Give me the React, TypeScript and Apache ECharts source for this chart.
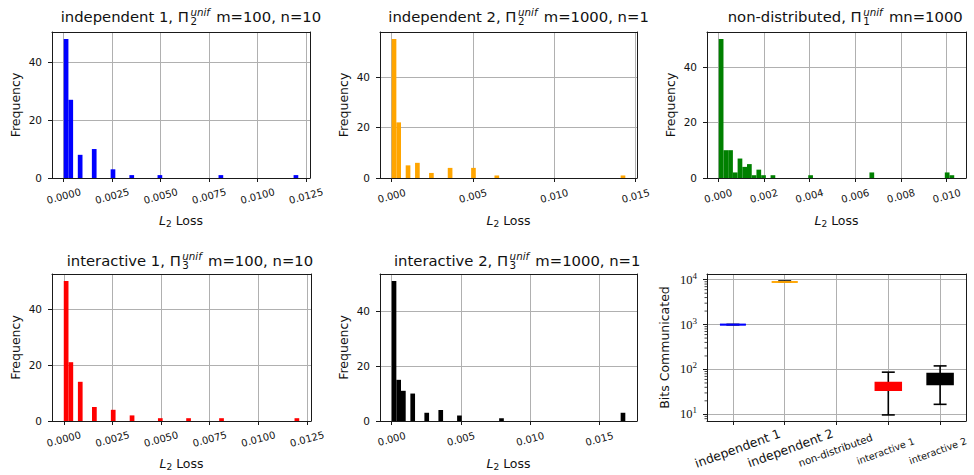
import { useEffect, useRef } from 'react';
import * as echarts from 'echarts';

// ---------------- data ----------------
const NBINS = 50;

const ind1Range = [0, 0.0121];
const ind1Bins = [0, 1, 3, 6, 10, 14, 20, 33, 49];
const ind1Counts = [48, 27, 8, 10, 3, 1, 1, 1, 1];

const ind2Range = [0, 0.01437];
const ind2Bins = [0, 1, 3, 5, 8, 12, 17, 22, 49];
const ind2Counts = [55, 22, 5, 6, 2, 4, 4, 1, 1];

const nonRange = [0.00003, 0.01033];
const nonBins = [0, 1, 2, 3, 4, 5, 6, 7, 8, 9, 11, 19, 32, 48, 49];
const nonCounts = [50, 10, 10, 2, 7, 4, 5, 1, 3, 1, 1, 1, 2, 2, 1];

const int1Range = [0, 0.0121];
const int1Bins = [0, 1, 3, 6, 10, 14, 20, 26, 33, 49];
const int1Counts = [50, 21, 14, 5, 4, 2, 1, 1, 1, 1];

const int2Range = [0, 0.01688];
const int2Bins = [0, 1, 2, 4, 7, 10, 14, 23, 49];
const int2Counts = [51, 15, 11, 10, 3, 4, 2, 1, 3];

const lossTicksA = [0, 0.0025, 0.005, 0.0075, 0.01, 0.0125];
const lossTicksB = [0, 0.005, 0.01, 0.015];
const lossTicksC = [0, 0.002, 0.004, 0.006, 0.008, 0.01];
const freqTicks = [0, 20, 40];

const boxCats = ['independent 1', 'independent 2', 'non-distributed', 'interactive 1', 'interactive 2'];
const boxLow = [1000, 8900, null, 9.7, 16.7];
const boxQ1 = [1000, 8900, null, 34.5, 46.2];
const boxMed = [1000, 8900, null, 42, 60];
const boxQ3 = [1000, 8900, null, 51.3, 81.4];
const boxHigh = [1000, 9350, null, 87, 120];
const bitsTicks = [10, 100, 1000, 10000];
const bitsMinorTicks = [8, 9, 20, 30, 40, 50, 60, 70, 80, 90, 200, 300, 400, 500, 600, 700, 800, 900,
  2000, 3000, 4000, 5000, 6000, 7000, 8000, 9000];

const titleTexts = [
  { pre: 'independent 1, Π', sub: '2', sup: 'unif', post: ' m=100, n=10' },
  { pre: 'independent 2, Π', sub: '2', sup: 'unif', post: ' m=1000, n=1' },
  { pre: 'non-distributed, Π', sub: '1', sup: 'unif', post: ' mn=1000' },
  { pre: 'interactive 1, Π', sub: '3', sup: 'unif', post: ' m=100, n=10' },
  { pre: 'interactive 2, Π', sub: '3', sup: 'unif', post: ' m=1000, n=1' },
];

// ---------------- layout / style ----------------
const FONT = 'DejaVu Sans';
const SERIF = 'Liberation Serif';
const TXT = '#111';
const GRIDC = '#b0b0b0';
const SPINE = '#1a1a1a';

const GRIDS = [
  { left: 52, top: 32, width: 258, height: 146 },
  { left: 380, top: 32, width: 257, height: 146 },
  { left: 707, top: 32, width: 259, height: 146 },
  { left: 52, top: 274, width: 259, height: 147 },
  { left: 380, top: 274, width: 257, height: 147 },
  { left: 707, top: 274, width: 259, height: 147 },
];
const titlePos = [[60.7, 22], [388.3, 22], [727.7, 22], [66.7, 265.5], [394, 265.5]];

// per-category label style: font size and [top, right, bottom, left] padding (nudges the rotated label)
const catLabelRich: Record<string, any> = {
  c0: { fontSize: 12.4, lineHeight: 15, padding: [0, 0, 0, 10] },
  c1: { fontSize: 12.4, lineHeight: 15, padding: [0, 0, 0, 12] },
  c2: { fontSize: 10.2, lineHeight: 13, padding: [0, 2, 0, 0] },
  c3: { fontSize: 9.6, lineHeight: 12, padding: [0, 6, 0, 0] },
  c4: { fontSize: 9.6, lineHeight: 12, padding: [0, 5, 0, 0] },
};

const panels = [
  { range: ind1Range, bins: ind1Bins, counts: ind1Counts, color: '#0000ff', ticks: lossTicksA, dec: 4 },
  { range: ind2Range, bins: ind2Bins, counts: ind2Counts, color: '#ffa500', ticks: lossTicksB, dec: 3 },
  { range: nonRange, bins: nonBins, counts: nonCounts, color: '#008000', ticks: lossTicksC, dec: 3 },
  { range: int1Range, bins: int1Bins, counts: int1Counts, color: '#ff0000', ticks: lossTicksA, dec: 4 },
  { range: int2Range, bins: int2Bins, counts: int2Counts, color: '#000000', ticks: lossTicksB, dec: 3 },
];
const boxColors = ['#0000ff', '#ffa500', '#008000', '#ff0000', '#000000'];

let measureCanvas: HTMLCanvasElement | null = null;
function textWidth(t: string, size: number, italic = false) {
  if (!measureCanvas) measureCanvas = document.createElement('canvas');
  const ctx = measureCanvas.getContext('2d')!;
  ctx.font = `${italic ? 'italic ' : ''}${size}px "${FONT}"`;
  return ctx.measureText(t).width;
}

function txt(x: number, baseline: number, text: string, size: number) {
  return {
    type: 'text',
    x,
    y: baseline - 0.346 * size,
    silent: true,
    style: {
      text,
      fontSize: size,
      fontFamily: FONT,
      fill: TXT,
      align: 'left',
      verticalAlign: 'middle',
    },
  };
}

function titleGraphic(i: number) {
  const t = titleTexts[i];
  const [x, base] = titlePos[i];
  const S = 14.8;
  const s = 10.3;
  const w1 = textWidth(t.pre, S);
  const ws = Math.max(textWidth(t.sub, s), textWidth(t.sup, s, true));
  const lh = 8.8;
  const supCenter = base - 6 - 0.346 * s;
  const stack = {
    type: 'text',
    x: x + w1 + 1.5,
    y: supCenter - lh / 2,
    silent: true,
    style: {
      text: `{p|${t.sup}}\n{b|${t.sub}}`,
      align: 'left',
      verticalAlign: 'top',
      fill: TXT,
      rich: {
        p: { fontFamily: FONT, fontSize: s, fontStyle: 'italic', lineHeight: lh, fill: TXT },
        b: { fontFamily: FONT, fontSize: s, lineHeight: lh, fill: TXT },
      },
    },
  };
  return [txt(x, base, t.pre, S), stack, txt(x + w1 + ws + 3, base, t.post, S)];
}

function frameAxes(i: number, xAxis: any[], yAxis: any[]) {
  const line = { show: true, onZero: false, lineStyle: { color: SPINE, width: 1 } };
  const off = { show: false };
  xAxis.push({
    type: 'value', gridIndex: i, position: 'top', min: 0, max: 1,
    axisLine: line, axisTick: off, axisLabel: off, splitLine: off,
  });
  yAxis.push({
    type: 'value', gridIndex: i, position: 'right', min: 0, max: 1,
    axisLine: line, axisTick: off, axisLabel: off, splitLine: off,
  });
}

function buildOption() {
  const grid = GRIDS.map((g) => ({
    ...g,
    show: false,
    containLabel: false,
    outerBoundsMode: 'none',
  }));

  const xAxis: any[] = [];
  const yAxis: any[] = [];
  const series: any[] = [];
  const spineLine = { show: true, onZero: false, lineStyle: { color: SPINE, width: 1 } };

  const lossName = {
    name: '{i|L}{s|2}{n| Loss}',
    nameLocation: 'middle',
    nameGap: 34,
    nameTextStyle: {
      color: TXT,
      rich: {
        i: { fontFamily: FONT, fontStyle: 'italic', fontSize: 12.5, lineHeight: 16, color: TXT },
        s: { fontFamily: FONT, fontSize: 9, lineHeight: 10, verticalAlign: 'bottom', color: TXT },
        n: { fontFamily: FONT, fontSize: 12.5, lineHeight: 16, color: TXT },
      },
    },
  };

  panels.forEach((p, i) => {
    const [lo, hi] = p.range;
    const span = hi - lo;
    const w = span / NBINS;
    const ymax = Math.max(...p.counts) * 1.05;
    xAxis.push({
      type: 'value',
      gridIndex: i,
      position: 'bottom',
      min: lo - 0.05 * span,
      max: hi + 0.05 * span,
      axisLine: spineLine,
      axisTick: { show: true, customValues: p.ticks, length: 4, lineStyle: { color: SPINE, width: 1 } },
      axisLabel: {
        customValues: p.ticks,
        hideOverlap: false,
        rotate: 15,
        align: 'center',
        verticalAlign: 'middle',
        margin: 18,
        color: TXT,
        formatter: (v: number, idx: number) =>
          idx === 0 ? `{b|${Number(v).toFixed(p.dec)}}` : `{s|${Number(v).toFixed(p.dec)}}`,
        rich: {
          b: { fontFamily: FONT, fontSize: 11.5, color: TXT, padding: [4, 0, 0, 5] },
          s: { fontFamily: FONT, fontSize: 10, color: TXT },
        },
      },
      splitLine: { show: true, lineStyle: { color: GRIDC, width: 1 } },
      ...lossName,
    });
    yAxis.push({
      type: 'value',
      gridIndex: i,
      position: 'left',
      min: 0,
      max: ymax,
      axisLine: spineLine,
      axisTick: { show: true, customValues: freqTicks, length: 4, lineStyle: { color: SPINE, width: 1 } },
      axisLabel: { customValues: freqTicks, margin: 10, color: TXT, fontFamily: FONT, fontSize: 10.5 },
      splitLine: { show: true, lineStyle: { color: GRIDC, width: 1 } },
      name: 'Frequency',
      nameLocation: 'middle',
      nameGap: 30,
      nameTextStyle: { fontFamily: FONT, fontSize: 12.5, color: TXT },
    });
    series.push({
      type: 'custom',
      xAxisIndex: i,
      yAxisIndex: i,
      silent: true,
      data: p.bins.map((b, k) => [lo + b * w, lo + (b + 1) * w, p.counts[k]]),
      encode: { x: [0, 1], y: 2 },
      renderItem: (params: any, api: any) => {
        const p0 = api.coord([api.value(0), api.value(2)]);
        const p1 = api.coord([api.value(1), 0]);
        return {
          type: 'rect',
          shape: { x: p0[0], y: p0[1], width: p1[0] - p0[0], height: p1[1] - p0[1] },
          style: { fill: p.color },
        };
      },
    });
  });

  // box plot panel (axis index 5)
  const rich: Record<string, any> = {};
  Object.keys(catLabelRich).forEach((k) => {
    rich[k] = { fontFamily: FONT, color: TXT, ...catLabelRich[k] };
  });
  xAxis.push({
    type: 'category',
    gridIndex: 5,
    position: 'bottom',
    data: boxCats,
    boundaryGap: true,
    axisLine: spineLine,
    axisTick: { show: true, alignWithLabel: true, interval: 0, length: 4, lineStyle: { color: SPINE, width: 1 } },
    axisLabel: {
      interval: 0,
      hideOverlap: false,
      rotate: 20,
      align: 'center',
      verticalAlign: 'middle',
      margin: 29,
      color: TXT,
      formatter: (v: string, idx: number) => `{c${idx}|${v}}`,
      rich,
    },
    splitLine: { show: true, alignWithLabel: true, interval: 0, lineStyle: { color: GRIDC, width: 1 } },
  });
  yAxis.push({
    type: 'log',
    logBase: 10,
    gridIndex: 5,
    position: 'left',
    min: 7.1,
    max: 13400,
    axisLine: spineLine,
    axisTick: { show: true, customValues: bitsTicks, length: 4, lineStyle: { color: SPINE, width: 1 } },
    axisLabel: {
      customValues: bitsTicks,
      margin: 10,
      color: TXT,
      formatter: (v: number) => `{b|10}{e|${Math.round(Math.log10(v))}}`,
      rich: {
        b: { fontFamily: SERIF, fontSize: 12.5, lineHeight: 17, color: TXT },
        e: { fontFamily: SERIF, fontSize: 9, lineHeight: 10, verticalAlign: 'top', color: TXT },
      },
    },
    splitLine: { show: true, lineStyle: { color: GRIDC, width: 1 } },
    name: 'Bits Communicated',
    nameLocation: 'middle',
    nameGap: 36,
    nameTextStyle: { fontFamily: FONT, fontSize: 12.5, color: TXT },
  });

  const boxData: number[][] = [];
  boxCats.forEach((_, k) => {
    if (boxLow[k] != null) {
      boxData.push([k, boxLow[k] as number, boxQ1[k] as number, boxMed[k] as number, boxQ3[k] as number, boxHigh[k] as number]);
    }
  });

  series.push({
    type: 'custom',
    xAxisIndex: 5,
    yAxisIndex: 5,
    silent: true,
    data: bitsMinorTicks.map((v) => [0, v]),
    encode: { x: 0, y: 1 },
    renderItem: (params: any, api: any) => {
      const pt = api.coord([api.value(0), api.value(1)]);
      const x0 = params.coordSys.x;
      return {
        type: 'line',
        shape: { x1: x0 - 2.5, y1: pt[1], x2: x0, y2: pt[1] },
        style: { stroke: SPINE, lineWidth: 0.8 },
      };
    },
  });

  series.push({
    type: 'custom',
    xAxisIndex: 5,
    yAxisIndex: 5,
    silent: true,
    data: boxData,
    encode: { x: 0, y: [1, 2, 3, 4, 5] },
    renderItem: (params: any, api: any) => {
      const k = api.value(0);
      const lo = api.value(1);
      const q1 = api.value(2);
      const med = api.value(3);
      const q3 = api.value(4);
      const hi = api.value(5);
      const color = boxColors[k];
      const pLo = api.coord([k, lo]);
      const pQ1 = api.coord([k, q1]);
      const pMed = api.coord([k, med]);
      const pQ3 = api.coord([k, q3]);
      const pHi = api.coord([k, hi]);
      const band = params.coordSys.width / boxCats.length;
      const cx = pQ1[0];
      const bw = band * 0.5;
      const cw = band * 0.25;
      const ls = { stroke: '#000', lineWidth: 1.6 };
      return {
        type: 'group',
        children: [
          { type: 'line', shape: { x1: cx, y1: pLo[1], x2: cx, y2: pQ1[1] }, style: ls },
          { type: 'line', shape: { x1: cx, y1: pQ3[1], x2: cx, y2: pHi[1] }, style: ls },
          { type: 'line', shape: { x1: cx - cw / 2, y1: pLo[1], x2: cx + cw / 2, y2: pLo[1] }, style: ls },
          { type: 'line', shape: { x1: cx - cw / 2, y1: pHi[1], x2: cx + cw / 2, y2: pHi[1] }, style: ls },
          {
            type: 'rect',
            shape: { x: cx - bw / 2, y: pQ3[1], width: bw, height: pQ1[1] - pQ3[1] },
            style: { fill: color, stroke: color, lineWidth: 1.6 },
          },
          { type: 'line', shape: { x1: cx - bw / 2, y1: pMed[1], x2: cx + bw / 2, y2: pMed[1] }, style: { stroke: color, lineWidth: 1.6 } },
        ],
      };
    },
  });

  // top and right spines (axis indices 6..11)
  GRIDS.forEach((_, i) => frameAxes(i, xAxis, yAxis));

  const graphic: any[] = [];
  titleTexts.forEach((_, i) => graphic.push(...titleGraphic(i)));

  return {
    animation: false,
    backgroundColor: '#ffffff',
    textStyle: { fontFamily: FONT },
    grid,
    xAxis,
    yAxis,
    series,
    graphic,
  };
}

export default function App() {
  const ref = useRef<HTMLDivElement>(null);
  useEffect(() => {
    const chart = echarts.init(ref.current!, null, { renderer: 'svg' });
    chart.setOption(buildOption() as any);
    return () => chart.dispose();
  }, []);
  return (
    <div
      ref={ref}
      style={{ position: 'absolute', left: 0, top: 0, width: 974, height: 475, background: '#fff' }}
    />
  );
}
